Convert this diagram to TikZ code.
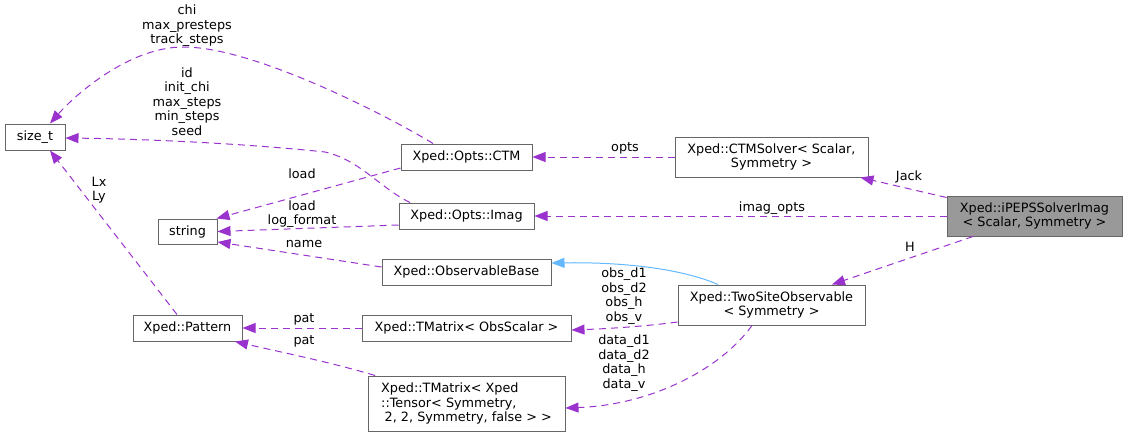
\documentclass[tikz,border=0pt]{standalone}
\usepackage{fontspec}
\setmainfont{DejaVu Sans}
\usetikzlibrary{arrows.meta,calc}
\definecolor{edgec}{HTML}{9A32CD}
\definecolor{inhc}{HTML}{63B8FF}
\definecolor{boxc}{HTML}{666666}
\definecolor{mainfill}{HTML}{999999}
\newcommand\dfont{\fontsize{12.8}{14.5}\selectfont}
\begin{document}
\begin{tikzpicture}[x=1pt,y=-1pt,
  box/.style={draw=boxc, line width=1pt, fill=white, inner sep=0pt, font=\dfont, align=center, text=black},
  edge/.style={draw=edgec, line width=1pt, dash pattern=on 7pt off 5pt, -{Triangle[length=13pt,width=10pt,fill=edgec]}},
  inh/.style={draw=inhc, line width=1pt, -{Triangle[length=13pt,width=10pt,fill=inhc]}},
  lbl/.style={font=\dfont, align=center, inner sep=0pt, text=black}]
\useasboundingbox (0,0) rectangle (1127,437);

% nodes
\node[box, minimum width=60pt, minimum height=26pt] (sizet) at (35,137) {size\_t};
\node[box, minimum width=59pt, minimum height=25pt] (string) at (187.5,231.5) {string};
\node[box, minimum width=109pt, minimum height=26pt] (pattern) at (187.5,328) {Xped::Pattern};
\node[box, minimum width=131pt, minimum height=26pt] (ctm) at (466.5,157) {Xped::Opts::CTM};
\node[box, minimum width=135pt, minimum height=26pt] (imag) at (466.5,216) {Xped::Opts::Imag};
\node[box, minimum width=169pt, minimum height=26pt] (obsbase) at (466.5,272) {Xped::ObservableBase};
\node[box, minimum width=209pt, minimum height=26pt] (tmobs) at (466.5,328) {Xped::TMatrix< ObsScalar >};
\node[box, minimum width=197pt, minimum height=55pt, align=left] (tmten) at (466.5,403.5) {Xped::TMatrix< Xped\\::Tensor< Symmetry,\\\hspace*{3.5pt}2, 2, Symmetry, false > >};
\node[box, minimum width=193pt, minimum height=40pt] (ctmsolver) at (771.5,157) {Xped::CTMSolver< Scalar,\\Symmetry >};
\node[box, fill=mainfill, minimum width=175pt, minimum height=40pt] (ipeps) at (1034.5,216) {Xped::iPEPSSolverImag\\< Scalar, Symmetry >};
\node[box, minimum width=187pt, minimum height=40pt] (twosite) at (771.5,305) {Xped::TwoSiteObservable\\< Symmetry >};

% edges
\draw[edge] (ctmsolver.west) -- (ctm.east);
\draw[edge] ([yshift=-2pt]ipeps.north west) -- ([xshift=-8pt]ctmsolver.south east);
\draw[edge] (ipeps.west) -- (imag.east);
\draw[edge] ([xshift=-61.5pt]ipeps.south) -- ([xshift=60.5pt]twosite.north);
\draw[inh] ([xshift=-53.5pt]twosite.north) .. controls (680,268) and (620,262) .. ([yshift=9pt]obsbase.east);
\draw[edge] ([yshift=-17pt]twosite.west) .. controls (640,327) and (600,329) .. ([yshift=-2pt]tmobs.east);
\draw[edge] ([xshift=-19.5pt]twosite.south) .. controls (720,370) and (650,405) .. ([yshift=-4.5pt]tmten.east);
\draw[edge] (tmobs.west) -- (pattern.east);
\draw[edge] ([xshift=-91.5pt]tmten.north) .. controls (330,362) and (280,352) .. ([xshift=47.5pt]pattern.south);
\draw[edge] ([xshift=-10.5pt]pattern.north) -- ([xshift=15pt]sizet.south);
\draw[edge] ([yshift=5pt]obsbase.west) -- ([yshift=-10.5pt]string.east);
\draw[edge] ([yshift=-9pt]imag.west) -- (string.east);
\draw[edge] ([yshift=-11pt]ctm.west) -- ([xshift=-1pt]string.north east);
\draw[edge] ([xshift=-33.5pt]ctm.north) .. controls (400,123) and (260,48) .. (185,47) .. controls (130,46) and (75,95) .. ([xshift=15pt]sizet.north);
\draw[edge] ([xshift=-56.5pt]imag.north) .. controls (380,188) and (360,160) .. (325,152) .. controls (250,144) and (150,139) .. ([yshift=-1pt]sizet.east);

% labels
\node[lbl] (lchi) at (187,26) {chi\\max\_presteps\\track\_steps};
\node[lbl] (lid) at (187,101.5) {id\\init\_chi\\max\_steps\\min\_steps\\seed};
\node[lbl] (lload1) at (302,174) {load};
\node[lbl] (lload2) at (302,214) {load\\log\_format};
\node[lbl] (lname) at (304,244) {name};
\node[lbl] (llxly) at (99,190) {Lx\\Ly};
\node[lbl] (lpat1) at (304,319) {pat};
\node[lbl] (lpat2) at (304,341) {pat};
\node[lbl] (lopts) at (625,148) {opts};
\node[lbl] (ljack) at (909,177) {Jack};
\node[lbl] (limag) at (772,208) {imag\_opts};
\node[lbl] (lh) at (910,247) {H};
\node[lbl] (lobs) at (624,296) {obs\_d1\\obs\_d2\\obs\_h\\obs\_v};
\node[lbl] (ldata) at (624,363) {data\_d1\\data\_d2\\data\_h\\data\_v};
\end{tikzpicture}
\end{document}
